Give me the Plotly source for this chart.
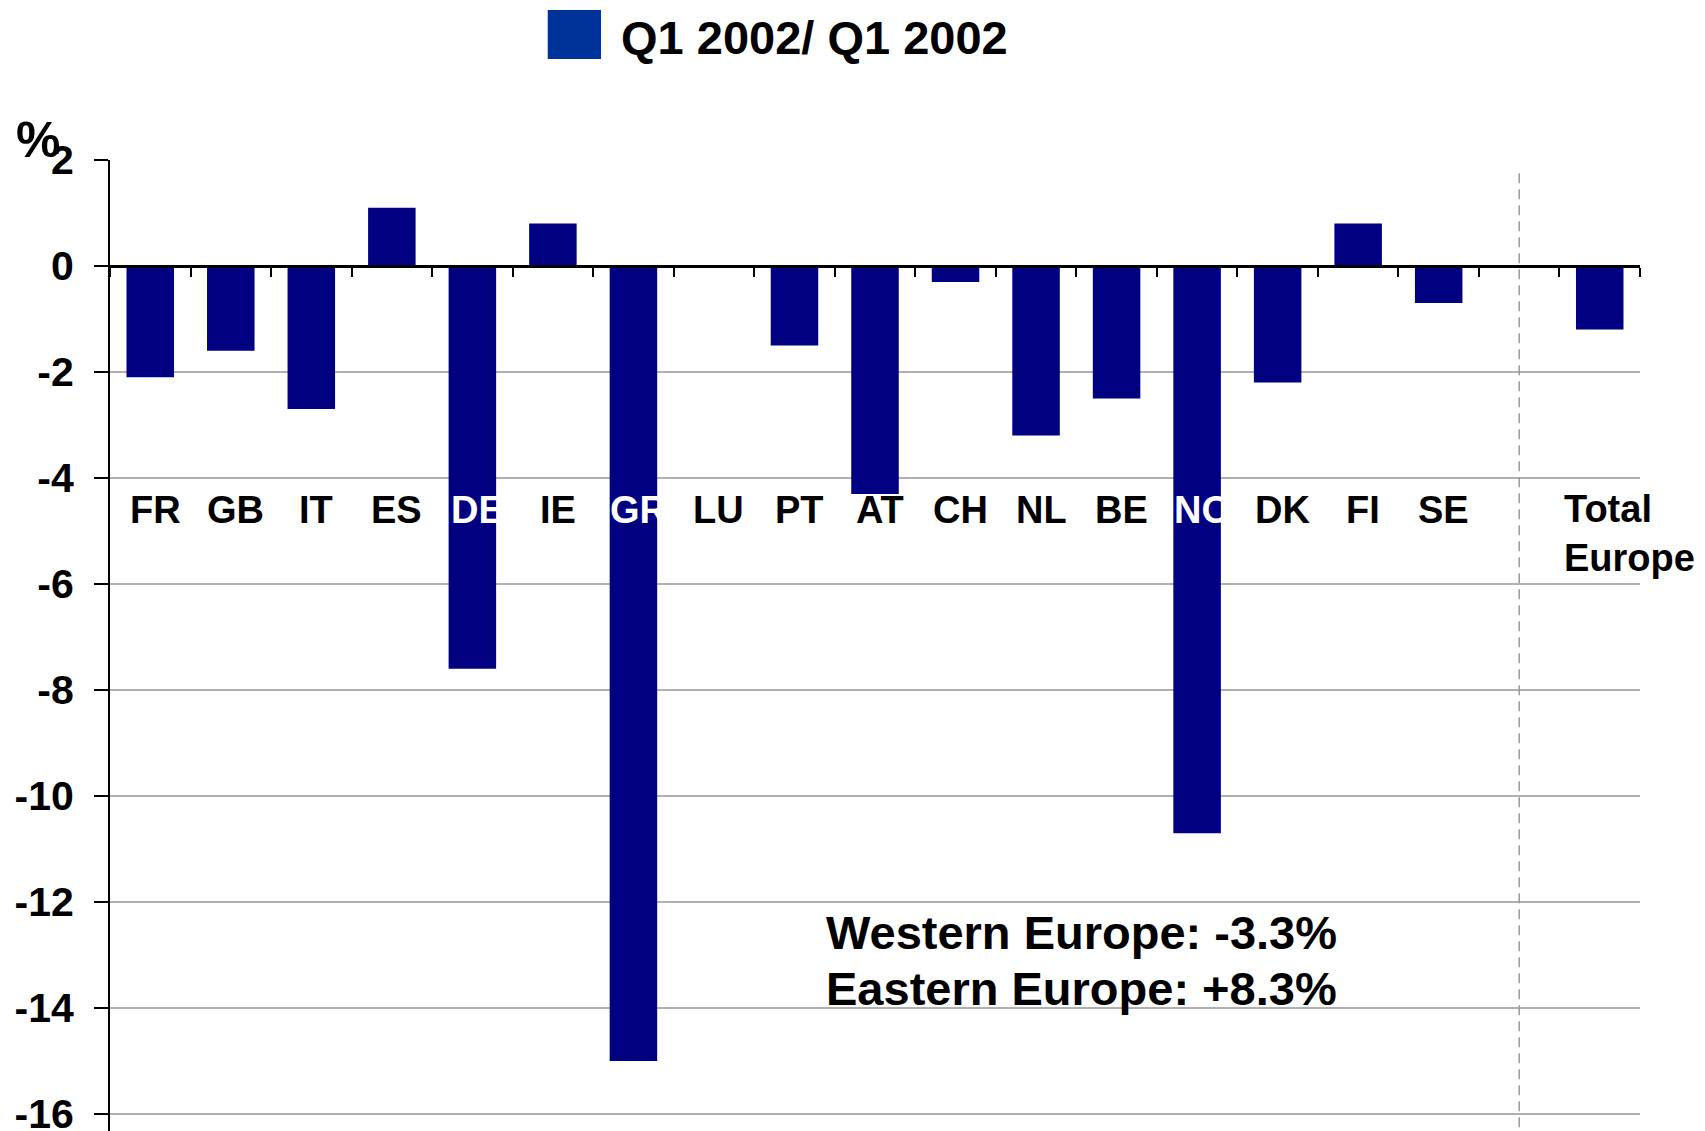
import plotly.graph_objects as go

# Year-on-year change by market, Q1 2002 (%)
countries = ["FR", "GB", "IT", "ES", "DE", "IE", "GR", "LU", "PT", "AT",
             "CH", "NL", "BE", "NO", "DK", "FI", "SE"]
country_change = [-2.1, -1.6, -2.7, 1.1, -7.6, 0.8, -15.0, 0.0, -1.5, -4.3,
                  -0.3, -3.2, -2.5, -10.7, -2.2, 0.8, -0.7]
total_label = "Total Europe"
total_change = -1.2
series_name = "Q1 2002/ Q1 2002"
region_notes = ["Western Europe: -3.3%", "Eastern Europe: +8.3%"]
y_ticks = [2, 0, -2, -4, -6, -8, -10, -12, -14, -16]

# slot layout: countries, one empty slot, then the European total
slots = countries + [None, total_label]
slot_pos = list(range(len(slots)))
gap_pos = slots.index(None)
total_pos = slots.index(total_label)
bar_pos = [p for p, s in zip(slot_pos, slots) if s is not None]
bar_val = country_change + [total_change]

BAR = "#000080"
SWATCH = "#003399"
GRID = "#b0b0b0"
FONT = "Liberation Sans, Arial, Helvetica, sans-serif"
Y_MIN, Y_MAX = -16.32, 2
LABEL_Y = -4.6

fig = go.Figure()
fig.add_trace(go.Bar(
    x=bar_pos, y=bar_val, name=series_name, width=0.59,
    marker=dict(color=BAR, line=dict(width=0)),
    showlegend=False,
))

annotations = []
# Country codes sit inside the plot just below -4; where a long bar runs
# through them the code is drawn in white.
for p, name, v in zip(slot_pos, countries, country_change):
    covered = v < LABEL_Y - 0.5
    annotations.append(dict(
        x=p, y=LABEL_Y, xref="x", yref="y", text=name, showarrow=False,
        xanchor="center", yanchor="middle", xshift=5,
        font=dict(family=FONT, size=38, weight="bold",
                  color="white" if covered else "black"),
    ))
annotations.append(dict(
    x=total_pos, y=LABEL_Y - 0.45, xref="x", yref="y",
    text="<br>".join(total_label.split(" ")), showarrow=False,
    xanchor="left", yanchor="middle", align="left", xshift=-38,
    font=dict(family=FONT, size=38, weight="bold", color="black"),
))
for i, note in enumerate(region_notes):
    annotations.append(dict(
        x=0.4667, y=-12.575 - 1.065 * i, xref="paper", yref="y", text=note,
        showarrow=False, xanchor="left", yanchor="middle",
        font=dict(family=FONT, size=47, weight="bold", color="black"),
    ))
# unit marker
annotations.append(dict(
    x=-0.047, y=1.0206, xref="paper", yref="paper", text="%",
    showarrow=False, xanchor="center", yanchor="middle",
    font=dict(family=FONT, size=50, weight="bold", color="black"),
))
# legend entry
annotations.append(dict(
    x=0.3325, y=1.1259, xref="paper", yref="paper", text=series_name,
    showarrow=False, xanchor="left", yanchor="middle",
    font=dict(family=FONT, size=47, weight="bold", color="black"),
))

shapes = [
    dict(type="rect", xref="paper", yref="paper",
         x0=0.2861, x1=0.3209, y0=1.1040, y1=1.1545,
         fillcolor=SWATCH, line=dict(width=0)),
    dict(type="line", xref="x", yref="y", x0=gap_pos, x1=gap_pos,
         y0=1.75, y1=Y_MIN,
         line=dict(color="#999999", width=1.5, dash="10px,6px")),
]

fig.update_layout(
    width=1705, height=1131,
    margin=dict(l=110, r=65, t=160, b=0, autoexpand=False),
    paper_bgcolor="white", plot_bgcolor="white",
    showlegend=False,
    annotations=annotations,
    shapes=shapes,
    font=dict(family=FONT, color="black"),
)
fig.update_xaxes(
    range=[-0.5, len(slots) - 0.5],
    tickmode="array", tickvals=[p - 0.5 for p in slot_pos] + [len(slots) - 0.5],
    anchor="free", position=(0 - Y_MIN) / (Y_MAX - Y_MIN),
    showline=True, linecolor="black", linewidth=3,
    ticks="outside", ticklen=9, tickwidth=2,
    tickcolor="black", showticklabels=False, showgrid=False, zeroline=False,
)
fig.update_yaxes(
    range=[Y_MIN, Y_MAX], tickmode="array", tickvals=y_ticks,
    ticktext=[str(t) for t in y_ticks],
    showline=True, linecolor="black", linewidth=2,
    ticks="outside", ticklen=14, tickwidth=2, tickcolor="black",
    ticklabelstandoff=12, ticklabeloverflow="allow",
    tickfont=dict(family=FONT, size=41, weight="bold", color="black"),
    showgrid=True, gridcolor=GRID, gridwidth=1.5, zeroline=False,
)

fig.write_html("out.html")
